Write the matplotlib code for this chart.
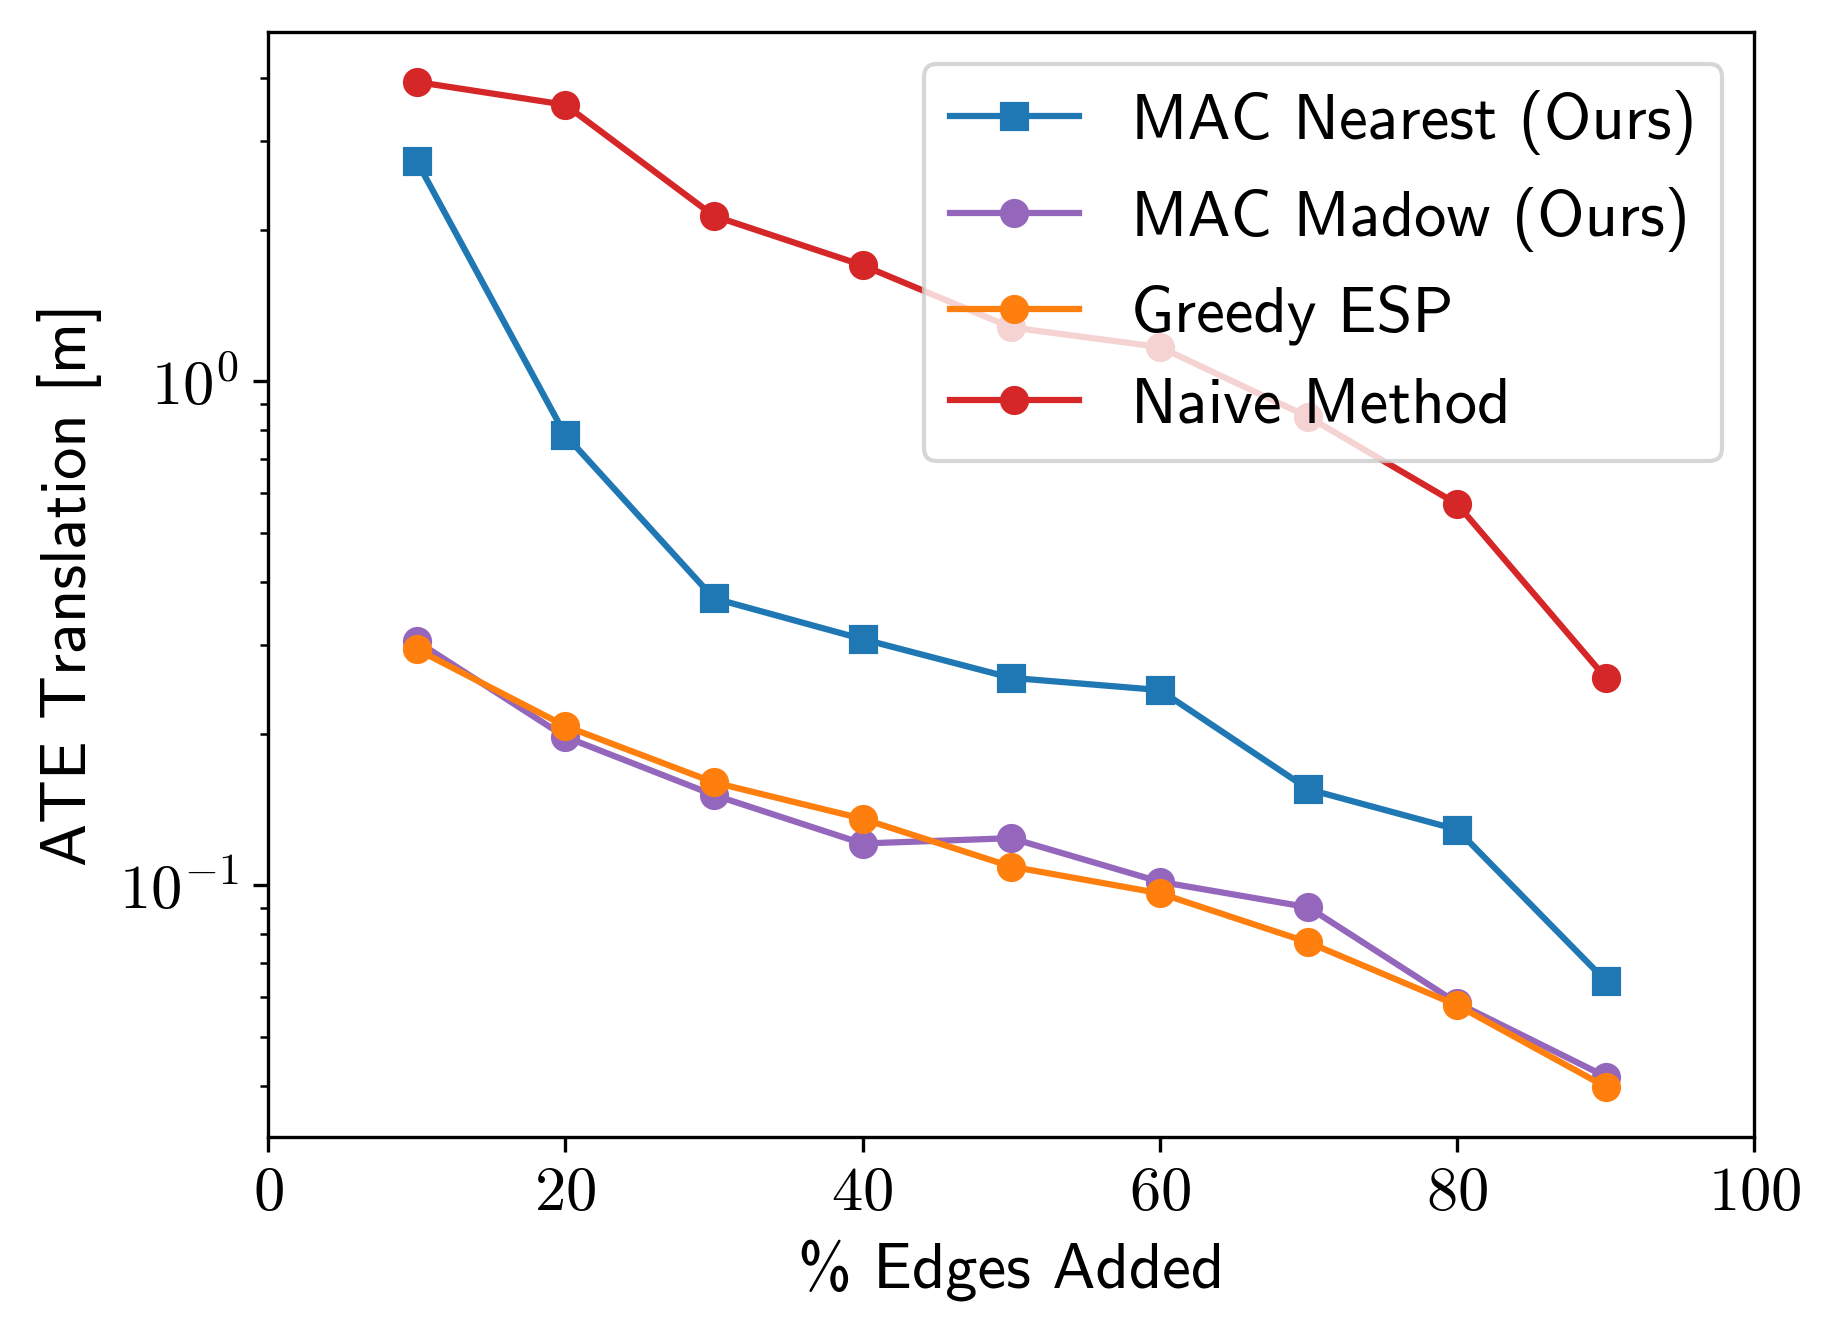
import numpy as np
import matplotlib
matplotlib.use("Agg")
import matplotlib.pyplot as plt
from matplotlib.ticker import FuncFormatter, NullFormatter

# valores
edges_pct = [10, 20, 30, 40, 50, 60, 70, 80, 90]
mac_nearest = [2.74, 0.783, 0.371, 0.308, 0.258, 0.244, 0.155, 0.129, 0.0646]
mac_madow = [0.305, 0.197, 0.151, 0.121, 0.124, 0.1016, 0.0904, 0.0584, 0.0417]
greedy_esp = [0.294, 0.207, 0.160, 0.1355, 0.1089, 0.0964, 0.0770, 0.0578, 0.0398]
naive = [3.93, 3.54, 2.13, 1.70, 1.28, 1.17, 0.85, 0.571, 0.258]
x_ticks = [0, 20, 40, 60, 80, 100]

plt.rcParams['font.family'] = ['cmss10', 'DejaVu Sans']
plt.rcParams['mathtext.fontset'] = 'cm'
plt.rcParams['axes.formatter.use_mathtext'] = True
plt.rcParams['font.size'] = 15.5
plt.rcParams['xtick.labelsize'] = 15
plt.rcParams['ytick.labelsize'] = 15

fig = plt.figure(figsize=(1833 / 300, 1336 / 300), dpi=300)
ax = fig.add_axes([0.1462, 0.1489, 0.8109, 0.8274])

ax.plot(edges_pct, mac_nearest, marker='s', color='tab:blue', label='MAC Nearest (Ours)')
ax.plot(edges_pct, mac_madow, marker='o', color='tab:purple', label='MAC Madow (Ours)')
ax.plot(edges_pct, greedy_esp, marker='o', color='tab:orange', label='Greedy ESP')
ax.plot(edges_pct, naive, marker='o', color='tab:red', label='Naive Method')

ax.set_yscale('log')
# expoentes em mathtext puro (cmss10 não tem o sinal de menos)
ax.yaxis.set_major_formatter(FuncFormatter(lambda v, pos: f'$10^{{{int(round(np.log10(v)))}}}$'))
ax.yaxis.set_minor_formatter(NullFormatter())
ax.set_xlim(0, 100)
ax.set_xticks(x_ticks)
ax.set_xticklabels([f'${t}$' for t in x_ticks])
ax.set_xlabel('% Edges Added')
ax.set_ylabel('ATE Translation [m]')
ax.legend(loc='upper right')

fig.savefig('out.png', dpi=300)
plt.close(fig)
